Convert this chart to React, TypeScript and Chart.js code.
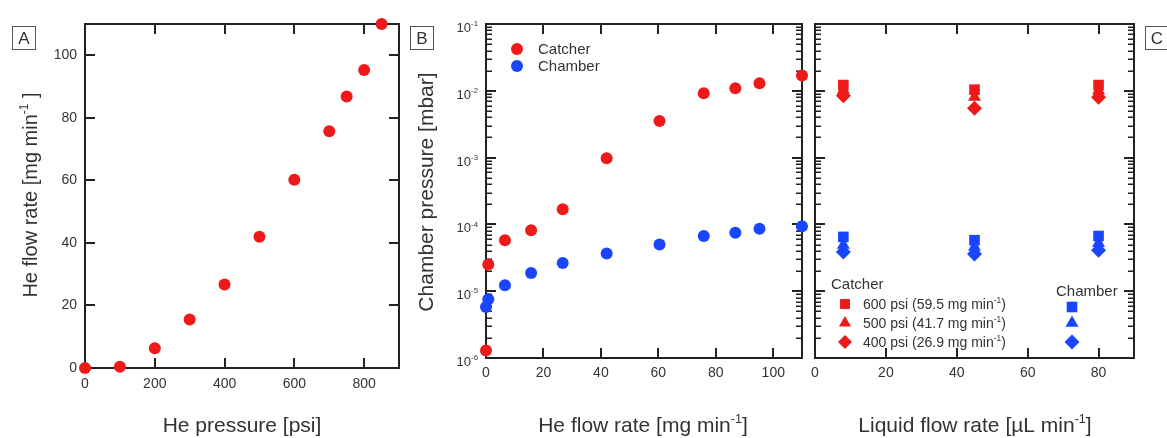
import React, { useEffect, useRef } from 'react';
import { Chart, registerables } from 'chart.js';
import { drawPoint } from 'chart.js/helpers';

Chart.register(...registerables);

const W = 1167;
const H = 438;
const FONT = '"Liberation Sans", Arial, Helvetica, sans-serif';
const RED = '#ee1a1a';
const BLUE = '#1a45ff';
const INK = '#222222';
const TXT = '#333333';

// ---------- Panel A ----------
const pressurePsi = [0, 100, 200, 300, 400, 500, 600, 700, 750, 800, 850];
const heFlowA = [0, 0.4, 6.3, 15.5, 26.7, 42, 60.2, 75.7, 86.8, 95.3, 110];
const aXTicks = [0, 200, 400, 600, 800];
const aYTicks = [0, 20, 40, 60, 80, 100];

// ---------- Panel B ----------
const heFlowB = [0, 0.8, 6.6, 15.7, 26.7, 42, 60.4, 75.8, 86.8, 95.2, 110];
const catcherB = [1.3e-6, 2.5e-5, 5.8e-5, 8.2e-5, 1.68e-4, 9.8e-4, 3.54e-3, 9.2e-3, 1.09e-2, 1.3e-2, 1.69e-2];
const chamberB = [5.8e-6, 7.6e-6, 1.23e-5, 1.88e-5, 2.65e-5, 3.67e-5, 5.0e-5, 6.7e-5, 7.5e-5, 8.6e-5, 9.4e-5];
const bXTicks = [0, 20, 40, 60, 80, 100];
const logDecades = [-6, -5, -4, -3, -2, -1];

// ---------- Panel C ----------
const liquidFlow = [8, 45, 80];
const catcher600 = [1.22e-2, 1.04e-2, 1.22e-2];
const catcher500 = [1.03e-2, 8.1e-3, 1.0e-2];
const catcher400 = [8.4e-3, 5.5e-3, 8.0e-3];
const chamber600 = [6.5e-5, 5.8e-5, 6.7e-5];
const chamber500 = [4.9e-5, 4.6e-5, 5.2e-5];
const chamber400 = [3.85e-5, 3.6e-5, 4.1e-5];
const cXTicks = [0, 20, 40, 60, 80];
const cLegendLabels = ['600 psi (59.5 mg min', '500 psi (41.7 mg min', '400 psi (26.9 mg min'];
const cStyles = ['rect', 'triangle', 'rectRot'];

type Seg = { t: string; sup?: boolean };

function drawRich(ctx: CanvasRenderingContext2D, segs: Seg[], x: number, y: number, size: number, align: 'left' | 'center' | 'right', color = TXT) {
  ctx.save();
  ctx.fillStyle = color;
  ctx.textBaseline = 'alphabetic';
  ctx.textAlign = 'left';
  const widths = segs.map((s) => {
    ctx.font = `${s.sup ? size * 0.6 : size}px ${FONT}`;
    return ctx.measureText(s.t).width;
  });
  const total = widths.reduce((a, b) => a + b, 0);
  let cx = align === 'left' ? x : align === 'center' ? x - total / 2 : x - total;
  segs.forEach((s, i) => {
    ctx.font = `${s.sup ? size * 0.6 : size}px ${FONT}`;
    ctx.fillText(s.t, cx, s.sup ? y - size * 0.45 : y);
    cx += widths[i];
  });
  ctx.restore();
}

function drawRotated(ctx: CanvasRenderingContext2D, segs: Seg[], x: number, y: number, size: number) {
  ctx.save();
  ctx.translate(x, y);
  ctx.rotate(-Math.PI / 2);
  drawRich(ctx, segs, 0, 0, size, 'center');
  ctx.restore();
}

function drawLabelBox(ctx: CanvasRenderingContext2D, letter: string, x: number, y: number) {
  ctx.save();
  ctx.strokeStyle = '#555';
  ctx.lineWidth = 1;
  ctx.strokeRect(x + 0.5, y + 0.5, 23, 23);
  ctx.fillStyle = TXT;
  ctx.font = `17px ${FONT}`;
  ctx.textAlign = 'center';
  ctx.textBaseline = 'middle';
  ctx.fillText(letter, x + 12, y + 13);
  ctx.restore();
}

function drawFrame(chart: any, xTicks: number[], yTicks: number[] | null) {
  const { ctx, chartArea } = chart;
  const { left, right, top, bottom } = chartArea;
  const xs = chart.scales.x;
  const ys = chart.scales.y;
  ctx.save();
  ctx.strokeStyle = INK;
  ctx.lineWidth = 2;
  ctx.beginPath();
  for (const v of xTicks) {
    const px = Math.round(xs.getPixelForValue(v));
    ctx.moveTo(px, bottom);
    ctx.lineTo(px, bottom - 10);
    ctx.moveTo(px, top);
    ctx.lineTo(px, top + 10);
  }
  if (yTicks) {
    for (const v of yTicks) {
      const py = Math.round(ys.getPixelForValue(v));
      ctx.moveTo(left, py);
      ctx.lineTo(left + 10, py);
      ctx.moveTo(right, py);
      ctx.lineTo(right - 10, py);
    }
  } else {
    for (const d of logDecades) {
      const py = Math.round(ys.getPixelForValue(Math.pow(10, d)));
      ctx.moveTo(left, py);
      ctx.lineTo(left + 10, py);
      ctx.moveTo(right, py);
      ctx.lineTo(right - 10, py);
    }
  }
  ctx.stroke();
  if (!yTicks) {
    ctx.lineWidth = 1.5;
    ctx.beginPath();
    for (const d of logDecades) {
      if (d === -1) continue;
      for (let m = 2; m <= 9; m++) {
        const py = Math.round(ys.getPixelForValue(m * Math.pow(10, d))) + 0.25;
        ctx.moveTo(left, py);
        ctx.lineTo(left + 6, py);
        ctx.moveTo(right, py);
        ctx.lineTo(right - 6, py);
      }
    }
    ctx.stroke();
  }
  ctx.lineWidth = 2;
  ctx.strokeRect(Math.round(left), Math.round(top), Math.round(right - left), Math.round(bottom - top));
  ctx.restore();
}

const tickFont = { size: 14, family: FONT };

function linearX(min: number, max: number, ticks: number[], heightBelow: number, pad: number) {
  return {
    type: 'linear',
    position: 'bottom',
    min,
    max,
    afterBuildTicks: (s: any) => {
      s.ticks = ticks.map((v) => ({ value: v }));
    },
    afterFit: (s: any) => {
      s.height = heightBelow;
    },
    grid: { display: false, drawTicks: false },
    border: { display: false },
    ticks: { padding: pad, font: tickFont, color: TXT, maxRotation: 0, autoSkip: false },
  };
}

function makeChartA(canvas: HTMLCanvasElement) {
  const framePlugin = {
    id: 'frameA',
    beforeDatasetsDraw(chart: any) {
      drawFrame(chart, aXTicks, aYTicks);
    },
    afterDraw(chart: any) {
      const ctx = chart.ctx;
      drawLabelBox(ctx, 'A', 12, 26);
      drawRich(ctx, [{ t: 'He pressure [psi]' }], 242, 432, 21, 'center');
      drawRotated(ctx, [{ t: 'He flow rate [mg min' }, { t: '-1', sup: true }, { t: ' ]' }], 37, 195, 20);
    },
  };
  return new Chart(canvas, {
    type: 'scatter',
    data: {
      datasets: [
        {
          data: pressurePsi.map((x, i) => ({ x, y: heFlowA[i] })),
          backgroundColor: RED,
          borderWidth: 0,
          pointRadius: 6,
          clip: false,
        } as any,
      ],
    },
    options: {
      responsive: false,
      animation: false,
      devicePixelRatio: 1,
      events: [],
      layout: { padding: { left: 0, top: 24, right: W - 399, bottom: 0 } },
      plugins: { legend: { display: false }, tooltip: { enabled: false } },
      scales: {
        x: linearX(0, 900, aXTicks, H - 368, 8) as any,
        y: {
          type: 'linear',
          min: 0,
          max: 110,
          afterBuildTicks: (s: any) => {
            s.ticks = aYTicks.map((v) => ({ value: v }));
          },
          afterFit: (s: any) => {
            s.width = 85;
          },
          grid: { display: false, drawTicks: false },
          border: { display: false },
          ticks: { padding: 8, font: tickFont, color: TXT },
        } as any,
      },
    },
    plugins: [framePlugin],
  });
}

function logY(width: number) {
  return {
    type: 'logarithmic',
    min: 1e-6,
    max: 1e-1,
    afterFit: (s: any) => {
      s.width = width;
    },
    grid: { display: false, drawTicks: false },
    border: { display: false },
    ticks: { display: false },
  };
}

function makeChartB(canvas: HTMLCanvasElement) {
  const plugin = {
    id: 'frameB',
    beforeDatasetsDraw(chart: any) {
      drawFrame(chart, bXTicks, null);
    },
    afterDraw(chart: any) {
      const ctx = chart.ctx;
      const ys = chart.scales.y;
      const left = chart.chartArea.left;
      for (const d of logDecades) {
        const py = ys.getPixelForValue(Math.pow(10, d));
        drawRich(ctx, [{ t: '10' }, { t: String(d), sup: true }], left - 8, py + 8, 13, 'right');
      }
      drawLabelBox(ctx, 'B', 410, 26);
      drawRich(ctx, [{ t: 'He flow rate [mg min' }, { t: '-1', sup: true }, { t: ']' }], 643, 432, 21, 'center');
      drawRotated(ctx, [{ t: 'Chamber pressure [mbar]' }], 433, 192, 21);
      // legend
      const items = [
        { label: 'Catcher', color: RED, y: 49 },
        { label: 'Chamber', color: BLUE, y: 66 },
      ];
      for (const it of items) {
        ctx.save();
        ctx.fillStyle = it.color;
        drawPoint(ctx, { pointStyle: 'circle', radius: 6, borderWidth: 0, rotation: 0 } as any, 517, it.y);
        ctx.restore();
        drawRich(ctx, [{ t: it.label }], 538, it.y + 5, 15, 'left');
      }
    },
  };
  return new Chart(canvas, {
    type: 'scatter',
    data: {
      datasets: [
        {
          label: 'Catcher',
          data: heFlowB.map((x, i) => ({ x, y: catcherB[i] })),
          backgroundColor: RED,
          borderWidth: 0,
          pointRadius: 6,
          clip: false,
        } as any,
        {
          label: 'Chamber',
          data: heFlowB.map((x, i) => ({ x, y: chamberB[i] })),
          backgroundColor: BLUE,
          borderWidth: 0,
          pointRadius: 6,
          clip: false,
        } as any,
      ],
    },
    options: {
      responsive: false,
      animation: false,
      devicePixelRatio: 1,
      events: [],
      layout: { padding: { left: 0, top: 24, right: W - 802, bottom: 0 } },
      plugins: { legend: { display: false }, tooltip: { enabled: false } },
      scales: {
        x: linearX(0, 110, bXTicks, H - 358, 7) as any,
        y: logY(486) as any,
      },
    },
    plugins: [plugin],
  });
}

function makeChartC(canvas: HTMLCanvasElement) {
  const plugin = {
    id: 'frameC',
    beforeDatasetsDraw(chart: any) {
      drawFrame(chart, cXTicks, null);
    },
    afterDraw(chart: any) {
      const ctx = chart.ctx;
      drawLabelBox(ctx, 'C', 1145, 26);
      drawRich(ctx, [{ t: 'Liquid flow rate [\u00b5L min' }, { t: '-1', sup: true }, { t: ']' }], 975, 432, 21, 'center');
      // legend
      drawRich(ctx, [{ t: 'Catcher' }], 831, 289, 15, 'left');
      drawRich(ctx, [{ t: 'Chamber' }], 1056, 296, 15, 'left');
      const ys = [304, 323, 342];
      cLegendLabels.forEach((lab, i) => {
        ctx.save();
        ctx.fillStyle = RED;
        drawPoint(ctx, { pointStyle: cStyles[i], radius: 7, borderWidth: 0, rotation: 0 } as any, 845, ys[i]);
        ctx.fillStyle = BLUE;
        drawPoint(ctx, { pointStyle: cStyles[i], radius: 7.5, borderWidth: 0, rotation: 0 } as any, 1072, ys[i] + (i === 0 ? 3 : 0));
        ctx.restore();
        drawRich(ctx, [{ t: lab }, { t: '-1', sup: true }, { t: ')' }], 863, ys[i] + 5, 14, 'left');
      });
    },
  };
  const ds = (vals: number[], color: string, style: string) => ({
    data: liquidFlow.map((x, i) => ({ x, y: vals[i] })),
    backgroundColor: color,
    borderWidth: 0,
    pointRadius: 7.5,
    pointStyle: style,
    clip: false,
  });
  return new Chart(canvas, {
    type: 'scatter',
    data: {
      datasets: [
        ds(catcher600, RED, 'rect'),
        ds(catcher500, RED, 'triangle'),
        ds(catcher400, RED, 'rectRot'),
        ds(chamber600, BLUE, 'rect'),
        ds(chamber500, BLUE, 'triangle'),
        ds(chamber400, BLUE, 'rectRot'),
      ] as any,
    },
    options: {
      responsive: false,
      animation: false,
      devicePixelRatio: 1,
      events: [],
      layout: { padding: { left: 0, top: 24, right: W - 1134, bottom: 0 } },
      plugins: { legend: { display: false }, tooltip: { enabled: false } },
      scales: {
        x: linearX(0, 90, cXTicks, H - 358, 7) as any,
        y: logY(815) as any,
      },
    },
    plugins: [plugin],
  });
}

export default function App() {
  const refA = useRef<HTMLCanvasElement>(null);
  const refB = useRef<HTMLCanvasElement>(null);
  const refC = useRef<HTMLCanvasElement>(null);

  useEffect(() => {
    Chart.defaults.font.family = FONT;
    const charts = [makeChartA(refA.current!), makeChartB(refB.current!), makeChartC(refC.current!)];
    return () => charts.forEach((c) => c.destroy());
  }, []);

  const style: React.CSSProperties = { position: 'absolute', left: 0, top: 0, width: W, height: H };
  return (
    <div style={{ position: 'absolute', left: 0, top: 0, width: W, height: H, background: '#fff', overflow: 'hidden' }}>
      <canvas ref={refA} width={W} height={H} style={style} />
      <canvas ref={refB} width={W} height={H} style={style} />
      <canvas ref={refC} width={W} height={H} style={style} />
    </div>
  );
}
